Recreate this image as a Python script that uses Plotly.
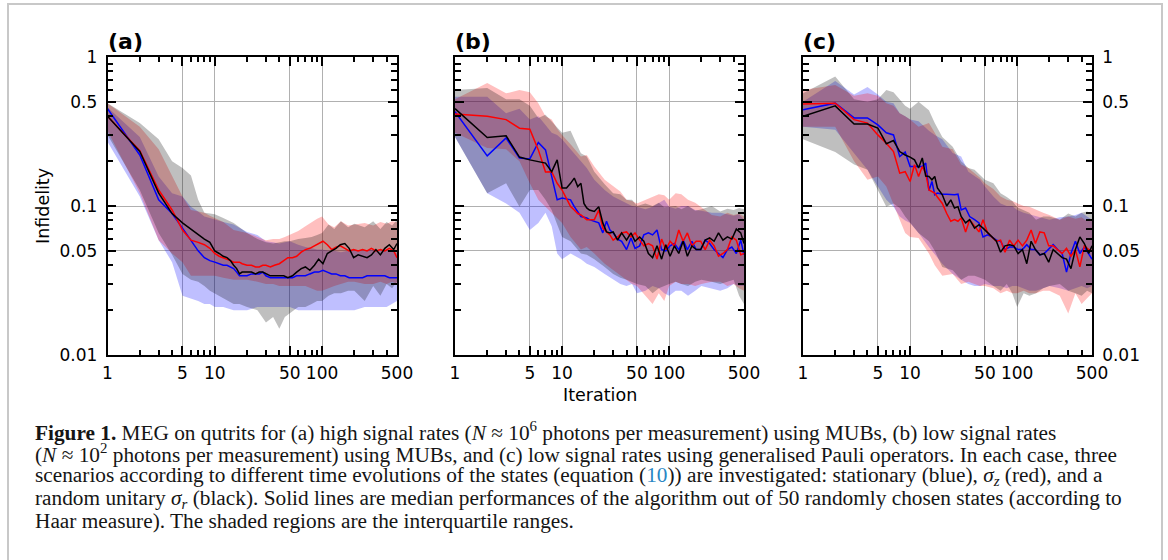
import math
import plotly.graph_objects as go

# iteration grids (median lines / interquartile bands)
iters = [1, 2, 3, 4, 5, 6, 7, 8, 9, 10,
         11, 12, 13, 14, 15, 16, 17, 18,
         20, 22, 24, 26, 28, 30,
         33, 36, 40, 44, 48, 53, 58, 64, 70, 77, 85, 93,
         102, 112, 123, 135, 148, 163, 179, 197, 217, 239, 263, 289,
         318, 350, 385, 424, 466, 500]
iters_band = [1, 2, 3, 4, 5, 6, 7, 8, 9, 10,
              12, 15, 17, 20, 25, 30, 35, 40, 45, 50,
              60, 70, 80, 90, 100, 115, 130, 150, 175, 200,
              250, 300, 350, 400, 450, 500]

# ---- (a) high signal rates, MUBs ----
a_blue = [0.45, 0.22, 0.11, 0.089, 0.071, 0.059, 0.050, 0.045, 0.043, 0.042,
          0.041, 0.040, 0.040, 0.039, 0.038, 0.036, 0.034, 0.034,
          0.034, 0.035, 0.035, 0.035, 0.036, 0.034,
          0.033, 0.033, 0.033, 0.033, 0.033, 0.033, 0.034, 0.034, 0.034, 0.035, 0.036, 0.036,
          0.037, 0.036, 0.035, 0.035, 0.034, 0.034, 0.033, 0.033, 0.033, 0.033, 0.034, 0.034,
          0.034, 0.034, 0.034, 0.033, 0.033, 0.033]
a_red = [0.40, 0.235, 0.128, 0.094, 0.069, 0.059, 0.057, 0.055, 0.052, 0.048,
         0.046, 0.045, 0.044, 0.043, 0.042, 0.042, 0.042, 0.041,
         0.040, 0.040, 0.039, 0.039, 0.040, 0.040,
         0.039, 0.040, 0.041, 0.043, 0.045, 0.045, 0.046, 0.049, 0.051, 0.052, 0.054, 0.056,
         0.058, 0.055, 0.051, 0.053, 0.054, 0.052, 0.050, 0.051, 0.050, 0.051, 0.050, 0.052,
         0.050, 0.051, 0.050, 0.052, 0.050, 0.045]
a_black = [0.40, 0.232, 0.122, 0.089, 0.077, 0.070, 0.064, 0.060, 0.057, 0.050,
           0.048, 0.046, 0.045, 0.043, 0.040, 0.038, 0.035, 0.036,
           0.036, 0.036, 0.035, 0.036, 0.036, 0.035,
           0.034, 0.034, 0.034, 0.034, 0.033, 0.034, 0.036, 0.038, 0.039, 0.037, 0.040, 0.044,
           0.041, 0.048, 0.050, 0.052, 0.055, 0.056, 0.052, 0.045, 0.047, 0.046, 0.045, 0.047,
           0.051, 0.047, 0.052, 0.055, 0.051, 0.056]
a_blue_lo = [0.27, 0.116, 0.059, 0.042, 0.025, 0.024, 0.023, 0.022, 0.022, 0.021,
             0.021, 0.020, 0.020, 0.020, 0.021, 0.021, 0.021, 0.021, 0.021, 0.021,
             0.020, 0.020, 0.020, 0.020, 0.020, 0.020, 0.020, 0.020, 0.020, 0.020,
             0.021, 0.021, 0.021, 0.021, 0.022, 0.023]
a_blue_hi = [0.46, 0.29, 0.158, 0.122, 0.116, 0.099, 0.092, 0.085, 0.083, 0.081,
             0.078, 0.075, 0.071, 0.067, 0.064, 0.058, 0.057, 0.056, 0.057, 0.058,
             0.055, 0.053, 0.052, 0.051, 0.051, 0.050, 0.050, 0.049, 0.050, 0.051,
             0.050, 0.051, 0.050, 0.051, 0.050, 0.048]
a_red_lo = [0.32, 0.122, 0.059, 0.048, 0.042, 0.034, 0.034, 0.034, 0.034, 0.034,
            0.033, 0.032, 0.032, 0.032, 0.031, 0.030, 0.030, 0.029, 0.029, 0.029,
            0.029, 0.029, 0.028, 0.027, 0.027, 0.028, 0.029, 0.030, 0.031, 0.031,
            0.030, 0.030, 0.031, 0.030, 0.031, 0.030]
a_red_hi = [0.49, 0.34, 0.24, 0.16, 0.116, 0.094, 0.092, 0.090, 0.086, 0.083,
            0.078, 0.069, 0.068, 0.066, 0.062, 0.059, 0.060, 0.060, 0.062, 0.064,
            0.068, 0.073, 0.078, 0.082, 0.085, 0.075, 0.072, 0.079, 0.074, 0.075,
            0.077, 0.074, 0.078, 0.076, 0.079, 0.078]
a_gray_lo = [0.30, 0.128, 0.066, 0.047, 0.035, 0.032, 0.031, 0.029, 0.027, 0.026,
             0.024, 0.022, 0.022, 0.021, 0.020, 0.0165, 0.018, 0.015, 0.018, 0.019,
             0.021, 0.021, 0.022, 0.023, 0.023, 0.025, 0.026, 0.026, 0.027, 0.027,
             0.023, 0.029, 0.025, 0.030, 0.028, 0.031]
a_gray_hi = [0.49, 0.36, 0.28, 0.20, 0.18, 0.16, 0.11, 0.090, 0.089, 0.088,
             0.083, 0.077, 0.072, 0.066, 0.060, 0.057, 0.056, 0.057, 0.058, 0.058,
             0.060, 0.061, 0.062, 0.064, 0.066, 0.075, 0.070, 0.079, 0.072, 0.076,
             0.072, 0.079, 0.070, 0.078, 0.074, 0.081]

# ---- (b) low signal rates, MUBs ----
b_blue = [0.43, 0.217, 0.286, 0.21, 0.207, 0.267, 0.238, 0.154, 0.11, 0.113,
          0.112, 0.110, 0.099, 0.092, 0.085, 0.084, 0.083, 0.081,
          0.079, 0.077, 0.066, 0.079, 0.069, 0.066,
          0.060, 0.058, 0.051, 0.061, 0.052, 0.054, 0.064, 0.066, 0.064, 0.069, 0.051, 0.050,
          0.054, 0.056, 0.051, 0.059, 0.051, 0.058, 0.051, 0.051, 0.059, 0.056, 0.051, 0.048,
          0.045, 0.051, 0.053, 0.048, 0.059, 0.047]
b_red = [0.414, 0.40, 0.38, 0.333, 0.328, 0.238, 0.169, 0.17, 0.142, 0.128,
         0.112, 0.099, 0.094, 0.089, 0.087, 0.084, 0.081, 0.081,
         0.081, 0.094, 0.071, 0.067, 0.064, 0.059,
         0.062, 0.066, 0.067, 0.062, 0.066, 0.059, 0.054, 0.056, 0.054, 0.044, 0.060, 0.051,
         0.058, 0.054, 0.069, 0.058, 0.066, 0.054, 0.058, 0.058, 0.051, 0.059, 0.054, 0.046,
         0.048, 0.051, 0.062, 0.059, 0.047, 0.048]
b_black = [0.45, 0.288, 0.296, 0.213, 0.204, 0.199, 0.194, 0.17, 0.204, 0.132,
           0.132, 0.142, 0.154, 0.135, 0.142, 0.104, 0.097, 0.094,
           0.092, 0.099, 0.077, 0.067, 0.066, 0.067,
           0.059, 0.066, 0.059, 0.066, 0.058, 0.062, 0.058, 0.048, 0.045, 0.054, 0.044, 0.055,
           0.046, 0.054, 0.048, 0.058, 0.046, 0.054, 0.051, 0.051, 0.059, 0.061, 0.058, 0.066,
           0.059, 0.062, 0.060, 0.070, 0.066, 0.056]
b_blue_lo = [0.29, 0.122, 0.104, 0.09, 0.069, 0.077, 0.09, 0.073, 0.048, 0.044,
             0.048, 0.044, 0.041, 0.039, 0.035, 0.032, 0.030, 0.029, 0.030, 0.026,
             0.027, 0.029, 0.028, 0.026, 0.025, 0.027, 0.027, 0.025, 0.027, 0.029,
             0.028, 0.027, 0.028, 0.030, 0.029, 0.029]
b_blue_hi = [0.54, 0.54, 0.42, 0.45, 0.38, 0.40, 0.35, 0.31, 0.30, 0.28,
             0.24, 0.20, 0.18, 0.15, 0.128, 0.116, 0.11, 0.104, 0.10, 0.099,
             0.095, 0.099, 0.105, 0.11, 0.099, 0.096, 0.10, 0.10, 0.094, 0.093,
             0.09, 0.09, 0.088, 0.086, 0.088, 0.081]
b_red_lo = [0.31, 0.245, 0.24, 0.20, 0.142, 0.11, 0.099, 0.09, 0.083, 0.077,
            0.062, 0.051, 0.053, 0.048, 0.041, 0.037, 0.034, 0.032, 0.030, 0.029,
            0.025, 0.022, 0.026, 0.023, 0.029, 0.031, 0.030, 0.030, 0.029, 0.030,
            0.031, 0.031, 0.029, 0.030, 0.028, 0.027]
b_red_hi = [0.52, 0.67, 0.57, 0.60, 0.58, 0.49, 0.40, 0.38, 0.33, 0.30,
            0.26, 0.215, 0.22, 0.184, 0.15, 0.135, 0.125, 0.11, 0.108, 0.104,
            0.11, 0.116, 0.12, 0.118, 0.11, 0.122, 0.12, 0.11, 0.105, 0.098,
            0.087, 0.085, 0.09, 0.087, 0.089, 0.085]
b_gray_lo = [0.29, 0.122, 0.142, 0.099, 0.128, 0.128, 0.11, 0.094, 0.075, 0.062,
             0.058, 0.048, 0.047, 0.044, 0.039, 0.035, 0.033, 0.032, 0.031, 0.030,
             0.029, 0.026, 0.028, 0.029, 0.030, 0.031, 0.030, 0.029, 0.031, 0.032,
             0.031, 0.030, 0.031, 0.032, 0.025, 0.022]
b_gray_hi = [0.60, 0.62, 0.52, 0.52, 0.47, 0.39, 0.41, 0.37, 0.34, 0.31,
             0.32, 0.226, 0.215, 0.17, 0.14, 0.122, 0.12, 0.11, 0.11, 0.10,
             0.104, 0.10, 0.105, 0.098, 0.099, 0.10, 0.095, 0.10, 0.093, 0.095,
             0.10, 0.092, 0.096, 0.094, 0.097, 0.095]

# ---- (c) low signal rates, generalised Pauli ----
c_blue = [0.443, 0.49, 0.39, 0.39, 0.35, 0.31, 0.30, 0.215, 0.23, 0.184,
          0.184, 0.184, 0.184, 0.194, 0.127, 0.146, 0.119, 0.122,
          0.12, 0.12, 0.119, 0.119, 0.12, 0.094,
          0.097, 0.085, 0.081, 0.077, 0.062, 0.064, 0.062, 0.059, 0.058, 0.051, 0.053, 0.053,
          0.051, 0.051, 0.055, 0.051, 0.051, 0.047, 0.048, 0.051, 0.055, 0.051, 0.048, 0.036,
          0.048, 0.058, 0.048, 0.053, 0.048, 0.044]
c_red = [0.483, 0.49, 0.38, 0.36, 0.30, 0.264, 0.232, 0.166, 0.17, 0.146,
         0.189, 0.158, 0.184, 0.166, 0.128, 0.125, 0.122, 0.115,
         0.104, 0.089, 0.079, 0.081, 0.079, 0.083,
         0.067, 0.081, 0.073, 0.067, 0.081, 0.066, 0.062, 0.058, 0.059, 0.049, 0.059, 0.054,
         0.059, 0.054, 0.059, 0.069, 0.056, 0.067, 0.066, 0.054, 0.054, 0.051, 0.048, 0.052,
         0.046, 0.051, 0.039, 0.054, 0.051, 0.050]
c_black = [0.40, 0.47, 0.355, 0.355, 0.333, 0.262, 0.275, 0.232, 0.22, 0.213,
           0.204, 0.18, 0.21, 0.159, 0.158, 0.15, 0.158, 0.132,
           0.119, 0.10, 0.11, 0.097, 0.099, 0.085,
           0.077, 0.081, 0.071, 0.075, 0.071, 0.066, 0.062, 0.058, 0.049, 0.054, 0.055, 0.054,
           0.048, 0.051, 0.041, 0.058, 0.051, 0.047, 0.048, 0.042, 0.051, 0.048, 0.045, 0.044,
           0.038, 0.051, 0.062, 0.056, 0.048, 0.054]
c_blue_lo = [0.34, 0.325, 0.226, 0.175, 0.135, 0.11, 0.099, 0.085, 0.08, 0.077,
             0.066, 0.053, 0.047, 0.041, 0.035, 0.032, 0.030, 0.029, 0.029, 0.030,
             0.029, 0.029, 0.028, 0.029, 0.029, 0.028, 0.027, 0.027, 0.028, 0.029,
             0.028, 0.027, 0.028, 0.029, 0.028, 0.029]
c_blue_hi = [0.50, 0.69, 0.56, 0.63, 0.56, 0.50, 0.49, 0.42, 0.40, 0.38,
             0.37, 0.32, 0.30, 0.28, 0.227, 0.215, 0.17, 0.16, 0.15, 0.135,
             0.116, 0.104, 0.10, 0.10, 0.094, 0.09, 0.088, 0.085, 0.083, 0.081,
             0.084, 0.085, 0.087, 0.09, 0.085, 0.081]
c_red_lo = [0.34, 0.34, 0.20, 0.15, 0.158, 0.135, 0.104, 0.081, 0.066, 0.062,
            0.061, 0.048, 0.040, 0.034, 0.035, 0.030, 0.031, 0.030, 0.029, 0.029,
            0.028, 0.026, 0.027, 0.026, 0.026, 0.027, 0.026, 0.026, 0.027, 0.027,
            0.025, 0.019, 0.026, 0.022, 0.024, 0.026]
c_red_hi = [0.60, 0.65, 0.55, 0.57, 0.55, 0.49, 0.47, 0.42, 0.40, 0.38,
            0.34, 0.36, 0.31, 0.25, 0.24, 0.19, 0.18, 0.166, 0.155, 0.142,
            0.13, 0.116, 0.11, 0.108, 0.104, 0.10, 0.099, 0.094, 0.09, 0.087,
            0.081, 0.085, 0.082, 0.084, 0.079, 0.081]
c_gray_lo = [0.28, 0.23, 0.19, 0.175, 0.128, 0.099, 0.104, 0.097, 0.085, 0.077,
             0.066, 0.058, 0.050, 0.039, 0.037, 0.032, 0.034, 0.034, 0.033, 0.032,
             0.029, 0.027, 0.030, 0.026, 0.021, 0.026, 0.025, 0.026, 0.028, 0.029,
             0.030, 0.027, 0.026, 0.025, 0.027, 0.026]
c_gray_hi = [0.57, 0.74, 0.52, 0.50, 0.52, 0.60, 0.58, 0.52, 0.47, 0.45,
             0.50, 0.44, 0.36, 0.29, 0.25, 0.20, 0.18, 0.175, 0.16, 0.15,
             0.142, 0.122, 0.115, 0.108, 0.098, 0.094, 0.09, 0.081, 0.085, 0.085,
             0.081, 0.089, 0.085, 0.09, 0.092, 0.089]

x_ticks = [1, 5, 10, 50, 100, 500]
x_minor = [2, 3, 4, 6, 7, 8, 9, 20, 30, 40, 60, 70, 80, 90, 200, 300, 400]
y_ticks = [0.01, 0.05, 0.1, 0.5, 1]
y_ticklabels = ["0.01", "0.05", "0.1", "0.5", "1"]
y_minor = [0.02, 0.03, 0.04, 0.06, 0.07, 0.08, 0.09, 0.2, 0.3, 0.4, 0.6, 0.7, 0.8, 0.9]

panel_labels = ["(a)", "(b)", "(c)"]
caption_lines = [
    "<b>Figure 1.</b> MEG on qutrits for (a) high signal rates (<i>N</i> ≈ 10<sup>6</sup> photons per measurement) using MUBs, (b) low signal rates",
    "(<i>N</i> ≈ 10<sup>2</sup> photons per measurement) using MUBs, and (c) low signal rates using generalised Pauli operators. In each case, three",
    "scenarios according to different time evolutions of the states (equation (<span style='color:#2a87c4'>10</span>)) are investigated: stationary (blue), <i>σ<sub>z</sub></i> (red), and a",
    "random unitary <i>σ<sub>r</sub></i> (black). Solid lines are median performances of the algorithm out of 50 randomly chosen states (according to",
    "Haar measure). The shaded regions are the interquartile ranges.",
]

W, H = 1168, 560
px_x = lambda p: p / W
px_y = lambda p: 1 - p / H

panels = [
    dict(blue=(a_blue, a_blue_lo, a_blue_hi), red=(a_red, a_red_lo, a_red_hi), black=(a_black, a_gray_lo, a_gray_hi)),
    dict(blue=(b_blue, b_blue_lo, b_blue_hi), red=(b_red, b_red_lo, b_red_hi), black=(b_black, b_gray_lo, b_gray_hi)),
    dict(blue=(c_blue, c_blue_lo, c_blue_hi), red=(c_red, c_red_lo, c_red_hi), black=(c_black, c_gray_lo, c_gray_hi)),
]
line_col = {"blue": "#0000ff", "red": "#ff0000", "black": "#000000"}
fill_col = {"blue": "rgba(0,0,255,0.25)", "red": "rgba(255,0,0,0.25)", "black": "rgba(0,0,0,0.25)"}

fig = go.Figure()
for i, p in enumerate(panels):
    xa = "x" if i == 0 else "x%d" % (i + 1)
    ya = "y" if i == 0 else "y%d" % (i + 1)
    # shaded interquartile ranges first, then the medians on top
    for k in ["blue", "red", "black"]:
        med, lo, hi = p[k]
        fig.add_trace(go.Scatter(x=iters_band + iters_band[::-1], y=hi + lo[::-1],
                                 fill="toself", fillcolor=fill_col[k], line=dict(width=0),
                                 mode="lines", xaxis=xa, yaxis=ya, hoverinfo="skip", showlegend=False))
    for k in ["blue", "red", "black"]:
        med = p[k][0]
        fig.add_trace(go.Scatter(x=iters, y=med, mode="lines", line=dict(color=line_col[k], width=1.5),
                                 xaxis=xa, yaxis=ya, showlegend=False))

tickfont = dict(family="DejaVu Sans", size=17, color="black")
x_domains = [(107.5, 397), (455, 744), (803, 1092)]
y_dom = [px_y(355), px_y(57)]
common = dict(type="log", ticks="inside", tickwidth=2, tickcolor="black", showline=True,
              linecolor="black", linewidth=1.5, mirror="ticks", showgrid=True, gridcolor="#b0b0b0",
              gridwidth=1, zeroline=False, tickfont=tickfont)
xminor = dict(tickvals=x_minor, ticks="inside", ticklen=5, tickwidth=1.5, tickcolor="black", showgrid=False)
yminor = dict(tickvals=y_minor, ticks="inside", ticklen=6, tickwidth=1.5, tickcolor="black", showgrid=False)
layout = {}
for i, (l, r) in enumerate(x_domains):
    sx = "xaxis" if i == 0 else "xaxis%d" % (i + 1)
    sy = "yaxis" if i == 0 else "yaxis%d" % (i + 1)
    ya = "y" if i == 0 else "y%d" % (i + 1)
    xa = "x" if i == 0 else "x%d" % (i + 1)
    xrange = [0, math.log10(500)]
    layout[sx] = dict(common, domain=[px_x(l), px_x(r)], anchor=ya, range=xrange,
                      tickvals=x_ticks, ticktext=[str(v) for v in x_ticks], ticklen=9,
                      ticklabelstandoff=2, minor=xminor)
    layout[sy] = dict(common, domain=y_dom, anchor=xa, range=[-2, 0],
                      tickvals=y_ticks, ticktext=y_ticklabels, ticklen=9, ticklabelstandoff=5,
                      showticklabels=(i != 1), side="right" if i == 2 else "left", minor=yminor)
    # twin axes so the minor ticks also sit on the top and opposite edges
    layout["xaxis%d" % (i + 4)] = dict(type="log", overlaying=xa, anchor=ya, side="top", range=xrange,
                                       tickvals=x_ticks, ticks="inside", ticklen=9, tickwidth=2,
                                       tickcolor="black", showticklabels=False, showgrid=False,
                                       showline=False, zeroline=False, minor=xminor)
    layout["yaxis%d" % (i + 4)] = dict(type="log", overlaying=ya, anchor=xa,
                                       side="left" if i == 2 else "right", range=[-2, 0],
                                       tickvals=y_ticks, ticks="inside", ticklen=9, tickwidth=2,
                                       tickcolor="black", showticklabels=False, showgrid=False,
                                       showline=False, zeroline=False, minor=yminor)

annotations = []
for i, lab in enumerate(panel_labels):
    annotations.append(dict(text="<b>%s</b>" % lab, x=px_x(x_domains[i][0] - 2), y=px_y(42),
                            xref="paper", yref="paper", xanchor="left", yanchor="middle", showarrow=False,
                            font=dict(family="DejaVu Sans", size=22, color="black")))
annotations.append(dict(text="Infidelity", textangle=-90, x=px_x(43), y=px_y(206), xref="paper", yref="paper",
                        xanchor="center", yanchor="middle", showarrow=False,
                        font=dict(family="DejaVu Sans", size=17.5, color="black")))
annotations.append(dict(text="Iteration", x=px_x(599.5), y=px_y(395), xref="paper", yref="paper",
                        xanchor="center", yanchor="middle", showarrow=False,
                        font=dict(family="DejaVu Sans", size=17.5, color="black")))
for j, line in enumerate(caption_lines):
    annotations.append(dict(text=line, x=px_x(33), y=px_y(431 + 22.6 * j), xref="paper", yref="paper",
                            xanchor="left", yanchor="middle", showarrow=False, align="left",
                            font=dict(family="Liberation Serif", size=21.3, color="#151515")))

fig.update_layout(
    width=W, height=H, margin=dict(l=0, r=0, t=0, b=0, autoexpand=False),
    paper_bgcolor="white", plot_bgcolor="white",
    annotations=annotations,
    shapes=[dict(type="rect", xref="paper", yref="paper", x0=px_x(8), x1=px_x(1162), y0=-0.05, y1=px_y(4),
                 line=dict(color="#c8c8c8", width=2), fillcolor="rgba(0,0,0,0)", layer="below")],
    **layout,
)

fig.write_html("out.html", config={"displayModeBar": False},
               post_script="document.body.style.margin='0';document.body.style.overflow='hidden';")
